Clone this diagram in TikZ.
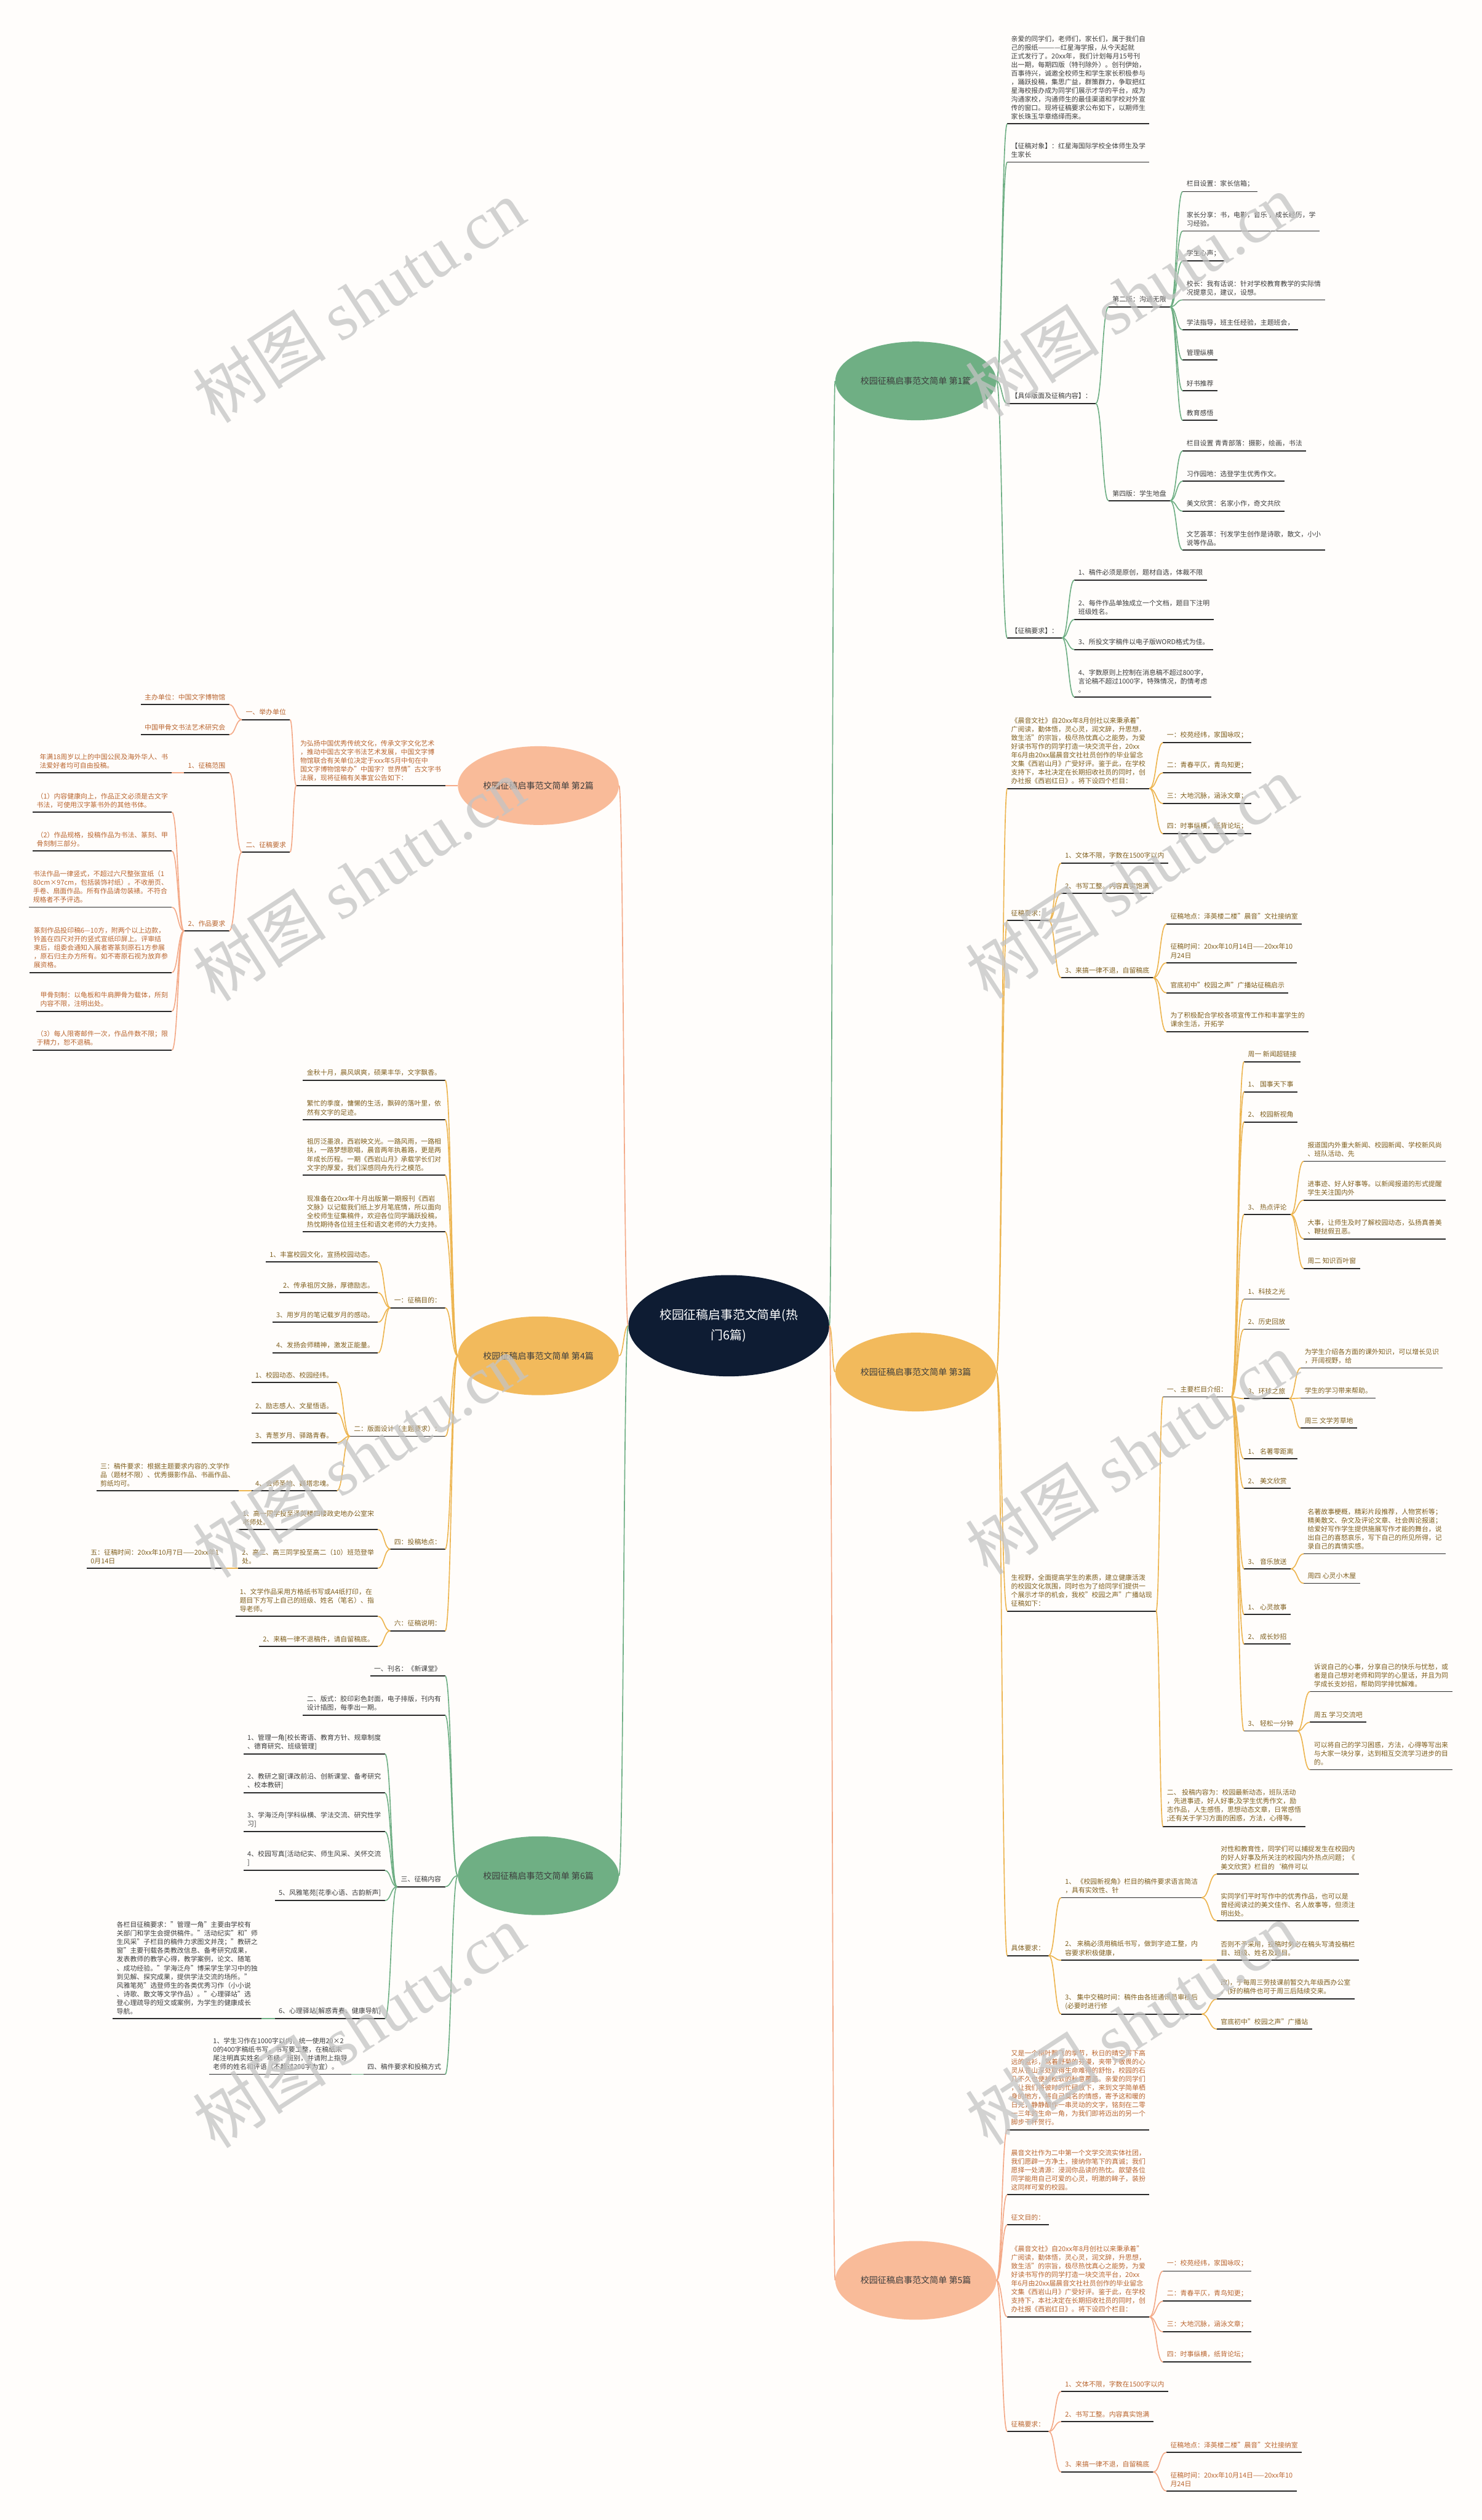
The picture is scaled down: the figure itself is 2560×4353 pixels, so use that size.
\documentclass[tikz,border=0pt]{standalone}
\usepackage{fontspec}
\setmainfont{Noto Sans CJK SC}
\newfontfamily\wmfont{Liberation Serif}
\usetikzlibrary{shapes.geometric,calc}

\definecolor{bgcol}{HTML}{FFFDFB}
\definecolor{navy}{HTML}{0E1C33}
\definecolor{gfill}{HTML}{6FAF84}
\definecolor{gline}{HTML}{6FAF84}
\definecolor{yfill}{HTML}{F2BA5C}
\definecolor{yline}{HTML}{EDB550}
\definecolor{sfill}{HTML}{F9BB99}
\definecolor{sline}{HTML}{F4AA88}
\definecolor{ulcol}{HTML}{2A2A2A}
\definecolor{txtg}{HTML}{3D3D3D}
\definecolor{txty}{HTML}{7F5F1E}
\definecolor{txts}{HTML}{B9652F}
\definecolor{wmcol}{HTML}{C4C4C4}

\newcommand\leaffont{\fontsize{6.6pt}{8.5pt}\selectfont}
\newcommand\chenyin{《晨音文社》自20xx年8月创社以来秉承着"\\广阅读，勤体悟，灵心灵，润文辞，升思想，\\致生活"的宗旨，极尽热忱真心之能势，为爱\\好读书写作的同学打造一块交流平台，20xx\\年6月由20xx届晨音文社社员创作的毕业留念\\文集《西岩山月》广受好评。鉴于此，在学校\\支持下，本社决定在长期招收社员的同时，创\\办社报《西岩红日》。将下设四个栏目：}

\tikzset{
  topic/.style={inner xsep=3.7pt, inner ysep=4pt, align=left, font=\leaffont,
    append after command={(\tikzlastnode.south west) edge[draw=ulcol, line width=1.1pt] (\tikzlastnode.south east)}},
  rt/.style={topic, anchor=south west},
  lt/.style={topic, anchor=south east},
  ball/.style={ellipse, minimum width=5.56cm, minimum height=2.72cm, inner sep=0pt, text=txtg, font=\fontsize{8.5pt}{10pt}\selectfont},
  hub/.style={ellipse, fill=navy, text=white, minimum width=6.94cm, minimum height=3.5cm, inner sep=0pt, align=center, font=\fontsize{12pt}{20pt}\selectfont},
  conn/.style={line width=1pt, to path={let \p1=(\tikztostart), \p2=(\tikztotarget) in .. controls ({(\x1+\x2)/2},\y1) and ({(\x1+\x2)/2},\y2) .. (\tikztotarget)}},
  glink/.style={conn, draw=gline},
  ylink/.style={conn, draw=yline},
  slink/.style={conn, draw=sline},
  wmark/.style={text=wmcol, text opacity=0.75, rotate=33, font=\fontsize{66pt}{66pt}\selectfont}
}

\begin{document}
\begin{tikzpicture}[x=0.02cm, y=-0.02cm]
\fill[bgcol] (0,0) rectangle (2560,4353);
\useasboundingbox (0,0) rectangle (2560,4353);

% centre and the six articles
\node[hub] (hub) at (1259,2290) {校园征稿启事范文简单(热\\门6篇)};
\node[ball, fill=gfill] (b1) at (1582,658) {校园征稿启事范文简单 第1篇};
\node[ball, fill=sfill] (b2) at (930,1357) {校园征稿启事范文简单 第2篇};
\node[ball, fill=yfill] (b3) at (1582,2370) {校园征稿启事范文简单 第3篇};
\node[ball, fill=yfill] (b4) at (930,2342) {校园征稿启事范文简单 第4篇};
\node[ball, fill=sfill] (b5) at (1582,3939) {校园征稿启事范文简单 第5篇};
\node[ball, fill=gfill] (b6) at (930,3240) {校园征稿启事范文简单 第6篇};
\draw[glink] (hub.east) to (b1.west);
\draw[ylink] (hub.east) to (b3.west);
\draw[slink] (hub.east) to (b5.west);
\draw[slink] (hub.west) to (b2.east);
\draw[ylink] (hub.west) to (b4.east);
\draw[glink] (hub.west) to (b6.east);

% article 1
\begin{scope}[every node/.append style={text=txtg}]
\node[rt] (a1intro) at (1740,214) {亲爱的同学们，老师们，家长们，属于我们自\\己的报纸————红星海学报，从今天起就\\正式发行了。20xx年，我们计划每月15号刊\\出一期，每期四版（特刊除外）。创刊伊始，\\百事待兴，诚邀全校师生和学生家长积极参与\\，踊跃投稿，集思广益，群策群力，争取把红\\星海校报办成为同学们展示才华的平台，成为\\沟通家校，沟通师生的最佳渠道和学校对外宣\\传的窗口。现将征稿要求公布如下，以期师生\\家长珠玉华章络绎而来。};
\node[rt] (a1who) at (1740,280) {【征稿对象】：红星海国际学校全体师生及学\\生家长};
\node[rt] (a1page) at (1740,697) {【具体版面及征稿内容】：};
\node[rt] (a1v2) at (1915,530) {第二版：沟通无限};
\node[rt] (a1v2a) at (2043,331) {栏目设置：家长信箱；};
\node[rt] (a1v2b) at (2043,399) {家长分享：书，电影，音乐 ，成长经历，学\\习经验。};
\node[rt] (a1v2c) at (2043,451) {学生心声；};
\node[rt] (a1v2d) at (2043,518) {校长：我有话说：针对学校教育教学的实际情\\况提意见，建议，设想。};
\node[rt] (a1v2e) at (2043,570) {学法指导，班主任经验，主题班会，};
\node[rt] (a1v2f) at (2043,622) {管理纵横};
\node[rt] (a1v2g) at (2043,675) {好书推荐};
\node[rt] (a1v2h) at (2043,726) {教育感悟};
\node[rt] (a1v4) at (1915,865) {第四版：学生地盘};
\node[rt] (a1v4a) at (2043,779) {栏目设置 青青部落：摄影，绘画，书法};
\node[rt] (a1v4b) at (2043,831) {习作园地：选登学生优秀作文。};
\node[rt] (a1v4c) at (2043,883) {美文欣赏：名家小作，奇文共欣};
\node[rt] (a1v4d) at (2043,950) {文艺荟萃：刊发学生创作是诗歌，散文，小小\\说等作品。};
\node[rt] (a1req) at (1740,1102) {【征稿要求】：};
\node[rt] (a1r1) at (1856,1002) {1、稿件必须是原创，题材自选，体裁不限};
\node[rt] (a1r2) at (1856,1070) {2、每件作品单独成立一个文档，题目下注明\\班级姓名。};
\node[rt] (a1r3) at (1856,1122) {3、所投文字稿件以电子版WORD格式为佳。};
\node[rt] (a1r4) at (1856,1204) {4、字数原则上控制在消息稿不超过800字，\\言论稿不超过1000字，特殊情况，酌情考虑\\。};
\end{scope}
\foreach \c in {a1intro,a1who,a1page,a1req} \draw[glink] (b1.east) to (\c.south west);
\foreach \c in {a1v2,a1v4} \draw[glink] (a1page.south east) to (\c.south west);
\foreach \c in {a1v2a,a1v2b,a1v2c,a1v2d,a1v2e,a1v2f,a1v2g,a1v2h} \draw[glink] (a1v2.south east) to (\c.south west);
\foreach \c in {a1v4a,a1v4b,a1v4c,a1v4d} \draw[glink] (a1v4.south east) to (\c.south west);
\foreach \c in {a1r1,a1r2,a1r3,a1r4} \draw[glink] (a1req.south east) to (\c.south west);

% article 3
\begin{scope}[every node/.append style={text=txty}]
\node[rt] (a3club) at (1740,1362) {\chenyin};
\node[rt] (a3c1) at (2009,1283) {一：校苑经纬，家国咏叹；};
\node[rt] (a3c2) at (2009,1335) {二：青春平仄，青鸟知更；};
\node[rt] (a3c3) at (2009,1388) {三：大地沉脉，涵泳文章；};
\node[rt] (a3c4) at (2009,1440) {四：时事纵横，纸背论坛；};
\node[rt] (a3req) at (1740,1590) {征稿要求：};
\node[rt] (a3r1) at (1833,1491) {1、文体不限，字数在1500字以内};
\node[rt] (a3r2) at (1833,1543) {2、书写工整。内容真实饱满};
\node[rt] (a3r3) at (1833,1689) {3、来搞一律不退，自留稿底};
\node[rt] (a3r3a) at (2015,1596) {征稿地点：泽英楼二楼"晨音"文社接纳室};
\node[rt] (a3r3b) at (2015,1663) {征稿时间：20xx年10月14日——20xx年10\\月24日};
\node[rt] (a3r3c) at (2015,1715) {官底初中"校园之声"广播站征稿启示};
\node[rt] (a3r3d) at (2015,1782) {为了积极配合学校各项宣传工作和丰富学生的\\课余生活，开拓学};
\node[rt] (a3radio) at (1740,2783) {生视野，全面提高学生的素质，建立健康活泼\\的校园文化氛围，同时也为了给同学们提供一\\个展示才华的机会，我校"校园之声"广播站现\\征稿如下：};
\node[rt] (a3cols) at (2009,2413) {一、主要栏目介绍：};
\node[rt] (a3k1) at (2149,1834) {周一 新闻超链接};
\node[rt] (a3k2) at (2149,1886) {1、 国事天下事};
\node[rt] (a3k3) at (2149,1938) {2、 校园新视角};
\node[rt] (a3k4) at (2149,2098) {3、 热点评论};
\node[rt] (a3k4a) at (2252,2006) {报道国内外重大新闻、校园新闻、学校新风尚\\、班队活动、先};
\node[rt] (a3k4b) at (2252,2073) {进事迹、好人好事等。以新闻报道的形式提醒\\学生关注国内外};
\node[rt] (a3k4c) at (2252,2140) {大事，让师生及时了解校园动态，弘扬真善美\\、鞭挞假丑恶。};
\node[rt] (a3k4d) at (2252,2191) {周二 知识百叶窗};
\node[rt] (a3k5) at (2149,2244) {1、科技之光};
\node[rt] (a3k6) at (2149,2296) {2、历史回放};
\node[rt] (a3k7) at (2149,2416) {3、环球之旅};
\node[rt] (a3k7a) at (2247,2363) {为学生介绍各方面的课外知识，可以增长见识\\，开阔视野，给};
\node[rt] (a3k7b) at (2247,2415) {学生的学习带来帮助。};
\node[rt] (a3k7c) at (2247,2467) {周三 文学芳草地};
\node[rt] (a3k8) at (2149,2520) {1、 名著零距离};
\node[rt] (a3k9) at (2149,2571) {2、 美文欣赏};
\node[rt] (a3k10) at (2149,2710) {3、 音乐放送};
\node[rt] (a3k10a) at (2252,2684) {名著故事梗概，精彩片段推荐，人物赏析等；\\精美散文、杂文及评论文章、社会舆论报道；\\给爱好写作学生提供施展写作才能的舞台，说\\出自己的喜怒哀乐，写下自己的所见所得，记\\录自己的真情实感。};
\node[rt] (a3k10b) at (2252,2735) {周四 心灵小木屋};
\node[rt] (a3k11) at (2149,2789) {1、 心灵故事};
\node[rt] (a3k12) at (2149,2840) {2、 成长妙招};
\node[rt] (a3k13) at (2149,2990) {3、 轻松一分钟};
\node[rt] (a3k13a) at (2263,2922) {诉说自己的心事，分享自己的快乐与忧愁，或\\者是自己想对老师和同学的心里话，并且为同\\学成长支妙招，帮助同学排忧解难。};
\node[rt] (a3k13b) at (2263,2975) {周五 学习交流吧};
\node[rt] (a3k13c) at (2263,3057) {可以将自己的学习困惑，方法，心得等写出来\\与大家一块分享，达到相互交流学习进步的目\\的。};
\node[rt] (a3topics) at (2009,3155) {二、 投稿内容为：校园最新动态，班队活动\\，先进事迹，好人好事;及学生优秀作文，励\\志作品，人生感悟，思想动态文章，日常感悟\\;还有关于学习方面的困惑，方法，心得等。};
\node[rt] (a3spec) at (1740,3378) {具体要求：};
\node[rt] (a3s1) at (1833,3278) {1、 《校园新视角》栏目的稿件要求语言简洁\\，具有实效性、针};
\node[rt] (a3s1a) at (2102,3237) {对性和教育性，同学们可以捕捉发生在校园内\\的好人好事及所关注的校园内外热点问题；《\\美文欣赏》栏目的\symbol{96}稿件可以};
\node[rt] (a3s1b) at (2102,3318) {实同学们平时写作中的优秀作品，也可以是\\曾经阅读过的美文佳作、名人故事等，但须注\\明出处。};
\node[rt] (a3s2) at (1833,3386) {2、 来稿必须用稿纸书写，做到字迹工整，内\\容要求积极健康，};
\node[rt] (a3s2a) at (2102,3386) {否则不予采用，投稿时务必在稿头写清投稿栏\\目、班级、姓名及题目。};
\node[rt] (a3s3) at (1833,3479) {3、 集中交稿时间：稿件由各班通讯员审核后\\(必要时进行修};
\node[rt] (a3s3a) at (2102,3453) {改)，于每周三劳技课前暂交九年级西办公室\\。(好的稿件也可于周三后陆续交来。};
\node[rt] (a3s3b) at (2102,3505) {官底初中"校园之声"广播站};
\end{scope}
\foreach \c in {a3club,a3req,a3radio,a3spec} \draw[ylink] (b3.east) to (\c.south west);
\foreach \c in {a3c1,a3c2,a3c3,a3c4} \draw[ylink] (a3club.south east) to (\c.south west);
\foreach \c in {a3r1,a3r2,a3r3} \draw[ylink] (a3req.south east) to (\c.south west);
\foreach \c in {a3r3a,a3r3b,a3r3c,a3r3d} \draw[ylink] (a3r3.south east) to (\c.south west);
\foreach \c in {a3cols,a3topics} \draw[ylink] (a3radio.south east) to (\c.south west);
\foreach \c in {a3k1,a3k2,a3k3,a3k4,a3k5,a3k6,a3k7,a3k8,a3k9,a3k10,a3k11,a3k12,a3k13} \draw[ylink] (a3cols.south east) to (\c.south west);
\foreach \c in {a3k4a,a3k4b,a3k4c,a3k4d} \draw[ylink] (a3k4.south east) to (\c.south west);
\foreach \c in {a3k7a,a3k7b,a3k7c} \draw[ylink] (a3k7.south east) to (\c.south west);
\foreach \c in {a3k10a,a3k10b} \draw[ylink] (a3k10.south east) to (\c.south west);
\foreach \c in {a3k13a,a3k13b,a3k13c} \draw[ylink] (a3k13.south east) to (\c.south west);
\foreach \c in {a3s1,a3s2,a3s3} \draw[ylink] (a3spec.south east) to (\c.south west);
\foreach \c in {a3s1a,a3s1b} \draw[ylink] (a3s1.south east) to (\c.south west);
\draw[ylink] (a3s2.south east) to (a3s2a.south west);
\foreach \c in {a3s3a,a3s3b} \draw[ylink] (a3s3.south east) to (\c.south west);

% article 5
\begin{scope}[every node/.append style={text=txts}]
\node[rt] (a5intro) at (1740,3679) {又是一个桐叶飘飞的季节，秋日的晴空泻下高\\远的蓝衫，驾着野菊的芬漫，夹带了敬畏的心\\灵从苍山深处取得生命难得的舒怡，校园的石\\几不久也便被松软的秋意覆盖。亲爱的同学们\\，让我们将彼时的忙碌放下，来到文学简单栖\\身的地方，将自己莫名的情感，寄予这和暖的\\日光，静静酿作一串灵动的文字，铭刻在二零\\一三年的生命一角，为我们即将迈出的另一个\\脚步干杯贺行。};
\node[rt] (a5club2) at (1740,3791) {晨音文社作为二中第一个文学交流实体社团，\\我们愿辟一方净土，接纳你笔下的真诚；我们\\愿择一处清源：浸润你品读的热忱。歆望各位\\同学能用自己可爱的心灵，明澈的眸子，装扮\\这同样可爱的校园。};
\node[rt] (a5aim) at (1740,3843) {征文目的：};
\node[rt] (a5club) at (1740,4002) {\chenyin};
\node[rt] (a5c1) at (2009,3923) {一：校苑经纬，家国咏叹；};
\node[rt] (a5c2) at (2009,3975) {二：青春平仄，青鸟知更；};
\node[rt] (a5c3) at (2009,4028) {三：大地沉脉，涵泳文章；};
\node[rt] (a5c4) at (2009,4080) {四：时事纵横，纸背论坛；};
\node[rt] (a5req) at (1740,4200) {征稿要求：};
\node[rt] (a5r1) at (1833,4131) {1、文体不限，字数在1500字以内};
\node[rt] (a5r2) at (1833,4183) {2、书写工整。内容真实饱满};
\node[rt] (a5r3) at (1833,4270) {3、来搞一律不退，自留稿底};
\node[rt] (a5r3a) at (2015,4236) {征稿地点：泽英楼二楼"晨音"文社接纳室};
\node[rt] (a5r3b) at (2015,4303) {征稿时间：20xx年10月14日——20xx年10\\月24日};
\end{scope}
\foreach \c in {a5intro,a5club2,a5aim,a5club,a5req} \draw[slink] (b5.east) to (\c.south west);
\foreach \c in {a5c1,a5c2,a5c3,a5c4} \draw[slink] (a5club.south east) to (\c.south west);
\foreach \c in {a5r1,a5r2,a5r3} \draw[slink] (a5req.south east) to (\c.south west);
\foreach \c in {a5r3a,a5r3b} \draw[slink] (a5r3.south east) to (\c.south west);

% article 2 (left)
\begin{scope}[every node/.append style={text=txts}]
\node[lt] (a2intro) at (769,1357) {为弘扬中国优秀传统文化，传承文字文化艺术\\，推动中国古文字书法艺术发展，中国文字博\\物馆联合有关单位决定于xxx年5月中旬在中\\国文字博物馆举办"中国字？世界情"古文字书\\法展，现将征稿有关事宜公告如下：};
\node[lt] (a2org) at (501,1243) {一、举办单位};
\node[lt] (a2orga) at (396,1217) {主办单位：中国文字博物馆};
\node[lt] (a2orgb) at (396,1269) {中国甲骨文书法艺术研究会};
\node[lt] (a2req) at (501,1472) {二、征稿要求};
\node[lt] (a2scope) at (396,1335) {1、征稿范围};
\node[lt] (a2scopea) at (297,1335) {年满18周岁以上的中国公民及海外华人、书\\法爱好者均可自由投稿。};
\node[lt] (a2work) at (396,1608) {2、作品要求};
\node[lt] (a2w1) at (297,1403) {（1）内容健康向上，作品正文必须是古文字\\书法，可使用汉字篆书外的其他书体。};
\node[lt] (a2w2) at (297,1470) {（2）作品规格，投稿作品为书法、篆刻、甲\\骨刻制三部分。};
\node[lt] (a2w3) at (297,1567) {书法作品一律竖式，不超过六尺整张宣纸（1\\80cm×97cm，包括装饰衬纸）。不收册页、\\手卷、扇面作品。所有作品请勿装裱。不符合\\规格者不予评选。};
\node[lt] (a2w4) at (297,1680) {篆刻作品投印稿6—10方，附两个以上边款，\\钤盖在四尺对开的竖式宣纸印屏上。评审结\\束后，组委会通知入展者寄篆刻原石1方参展\\，原石归主办方所有。如不寄原石视为放弃参\\展资格。};
\node[lt] (a2w5) at (297,1747) {甲骨刻制：以龟板和牛肩胛骨为载体，所刻\\内容不限，注明出处。};
\node[lt] (a2w6) at (297,1814) {（3）每人限寄邮件一次，作品件数不限；限\\于精力，恕不退稿。};
\end{scope}
\draw[slink] (b2.west) to (a2intro.south east);
\foreach \c in {a2org,a2req} \draw[slink] (a2intro.south west) to (\c.south east);
\foreach \c in {a2orga,a2orgb} \draw[slink] (a2org.south west) to (\c.south east);
\foreach \c in {a2scope,a2work} \draw[slink] (a2req.south west) to (\c.south east);
\draw[slink] (a2scope.south west) to (a2scopea.south east);
\foreach \c in {a2w1,a2w2,a2w3,a2w4,a2w5,a2w6} \draw[slink] (a2work.south west) to (\c.south east);

% article 4 (left)
\begin{scope}[every node/.append style={text=txty}]
\node[lt] (a4p1) at (769,1866) {金秋十月，晨风飒爽，硕果丰华，文字飘香。};
\node[lt] (a4p2) at (769,1934) {繁忙的季度，慵懒的生活，飘碎的落叶里，依\\然有文字的足迹。};
\node[lt] (a4p3) at (769,2030) {祖厉泛墨浪，西岩映文光。一路风雨，一路相\\扶，一路梦想歌唱，晨音两年执着路，更是两\\年成长历程。一期《西岩山月》承载学长们对\\文字的厚爱，我们深感同舟先行之模范。};
\node[lt] (a4p4) at (769,2128) {现准备在20xx年十月出版第一期报刊《西岩\\文脉》以记载我们纸上岁月笔底情，所以面向\\全校师生征集稿件，欢迎各位同学踊跃投稿，\\热忱期待各位班主任和语文老师的大力支持。};
\node[lt] (a4aim) at (769,2259) {一：征稿目的：};
\node[lt] (a4aim1) at (653,2180) {1、丰富校园文化，宣扬校园动态。};
\node[lt] (a4aim2) at (653,2233) {2、传承祖厉文脉，厚德励志。};
\node[lt] (a4aim3) at (653,2284) {3、用岁月的笔记载岁月的感动。};
\node[lt] (a4aim4) at (653,2337) {4、发扬会师精神，激发正能量。};
\node[lt] (a4lay) at (769,2481) {二：版面设计（主题要求）：};
\node[lt] (a4lay1) at (582,2388) {1、校园动态、校园经纬。};
\node[lt] (a4lay2) at (582,2441) {2、励志感人、文星悟语。};
\node[lt] (a4lay3) at (582,2492) {3、青葱岁月、驿路青春。};
\node[lt] (a4lay4) at (582,2575) {4、会师圣地、巍塔忠魂。};
\node[lt] (a4lay4a) at (412,2575) {三：稿件要求：根据主题要求内容的.文学作\\品（题材不限）、优秀摄影作品、书画作品、\\剪纸均可。};
\node[lt] (a4where) at (769,2676) {四：投稿地点：};
\node[lt] (a4where1) at (653,2642) {1、高一同学投至泽英楼四楼政史地办公室宋\\老师处。};
\node[lt] (a4where2) at (653,2709) {2、高二、高三同学投至高二（10）班范登举\\处。};
\node[lt] (a4where2a) at (385,2709) {五：征稿时间：20xx年10月7日——20xx年1\\0月14日};
\node[lt] (a4note) at (769,2817) {六：征稿说明：};
\node[lt] (a4note1) at (653,2792) {1、文学作品采用方格纸书写或A4纸打印，在\\题目下方写上自己的班级、姓名（笔名）、指\\导老师。};
\node[lt] (a4note2) at (653,2844) {2、来稿一律不退稿件，请自留稿底。};
\end{scope}
\foreach \c in {a4p1,a4p2,a4p3,a4p4,a4aim,a4lay,a4where,a4note} \draw[ylink] (b4.west) to (\c.south east);
\foreach \c in {a4aim1,a4aim2,a4aim3,a4aim4} \draw[ylink] (a4aim.south west) to (\c.south east);
\foreach \c in {a4lay1,a4lay2,a4lay3,a4lay4} \draw[ylink] (a4lay.south west) to (\c.south east);
\draw[ylink] (a4lay4.south west) to (a4lay4a.south east);
\foreach \c in {a4where1,a4where2} \draw[ylink] (a4where.south west) to (\c.south east);
\draw[ylink] (a4where2.south west) to (a4where2a.south east);
\foreach \c in {a4note1,a4note2} \draw[ylink] (a4note.south west) to (\c.south east);

% article 6 (left)
\begin{scope}[every node/.append style={text=txtg}]
\node[lt] (a6name) at (769,2895) {一、刊名：《新课堂》};
\node[lt] (a6form) at (769,2963) {二、版式：胶印彩色封面，电子排版，刊内有\\设计插图，每季出一期。};
\node[lt] (a6cont) at (769,3259) {三、征稿内容};
\node[lt] (a6c1) at (665,3030) {1、管理一角[校长寄语、教育方针、规章制度\\、德育研究、班级管理]};
\node[lt] (a6c2) at (665,3097) {2、教研之窗[课改前沿、创新课堂、备考研究\\、校本教研]};
\node[lt] (a6c3) at (665,3164) {3、学海泛舟[学科纵横、学法交流、研究性学\\习]};
\node[lt] (a6c4) at (665,3231) {4、校园写真[活动纪实、师生风采、关怀交流\\]};
\node[lt] (a6c5) at (665,3283) {5、风雅笔苑[花季心语、古韵新声]};
\node[lt] (a6c6) at (665,3487) {6、心理驿站[解惑青春、健康导航]};
\node[lt] (a6c6a) at (452,3487) {各栏目征稿要求："管理一角"主要由学校有\\关部门和学生会提供稿件。"活动纪实"和"师\\生风采"子栏目的稿件力求图文并茂；"教研之\\窗"主要刊载各类教改信息、备考研究成果，\\发表教师的教学心得，教学案例，论文、随笔\\、成功经验。"学海泛舟"博采学生学习中的独\\到见解、探究成果，提供学法交流的场所。"\\风雅笔苑"选登师生的各类优秀习作（小小说\\、诗歌、散文等文学作品）。"心理驿站"选\\登心理疏导的短文或案例，为学生的健康成长\\导航。};
\node[lt] (a6way) at (769,3583) {四、稿件要求和投稿方式};
\node[lt] (a6way1) at (607,3583) {1、学生习作在1000字以内，统一使用20×2\\0的400字稿纸书写，书写要工整，在稿纸末\\尾注明真实姓名、年级、班别，并请附上指导\\老师的姓名和评语（不超过200字为宜）。};
\end{scope}
\foreach \c in {a6name,a6form,a6cont,a6way} \draw[glink] (b6.west) to (\c.south east);
\foreach \c in {a6c1,a6c2,a6c3,a6c4,a6c5,a6c6} \draw[glink] (a6cont.south west) to (\c.south east);
\draw[glink] (a6c6.south west) to (a6c6a.south east);
\draw[glink] (a6way.south west) to (a6way1.south east);

% watermark
\foreach \wy [count=\i] in {520,1520,2515,3500} \node[wmark] (wml\i) at (620,\wy) {树图 {\wmfont shutu.cn}};
\foreach \wy [count=\i] in {510,1515,2510,3495} \node[wmark] (wmr\i) at (1955,\wy) {树图 {\wmfont shutu.cn}};
\end{tikzpicture}
\end{document}
